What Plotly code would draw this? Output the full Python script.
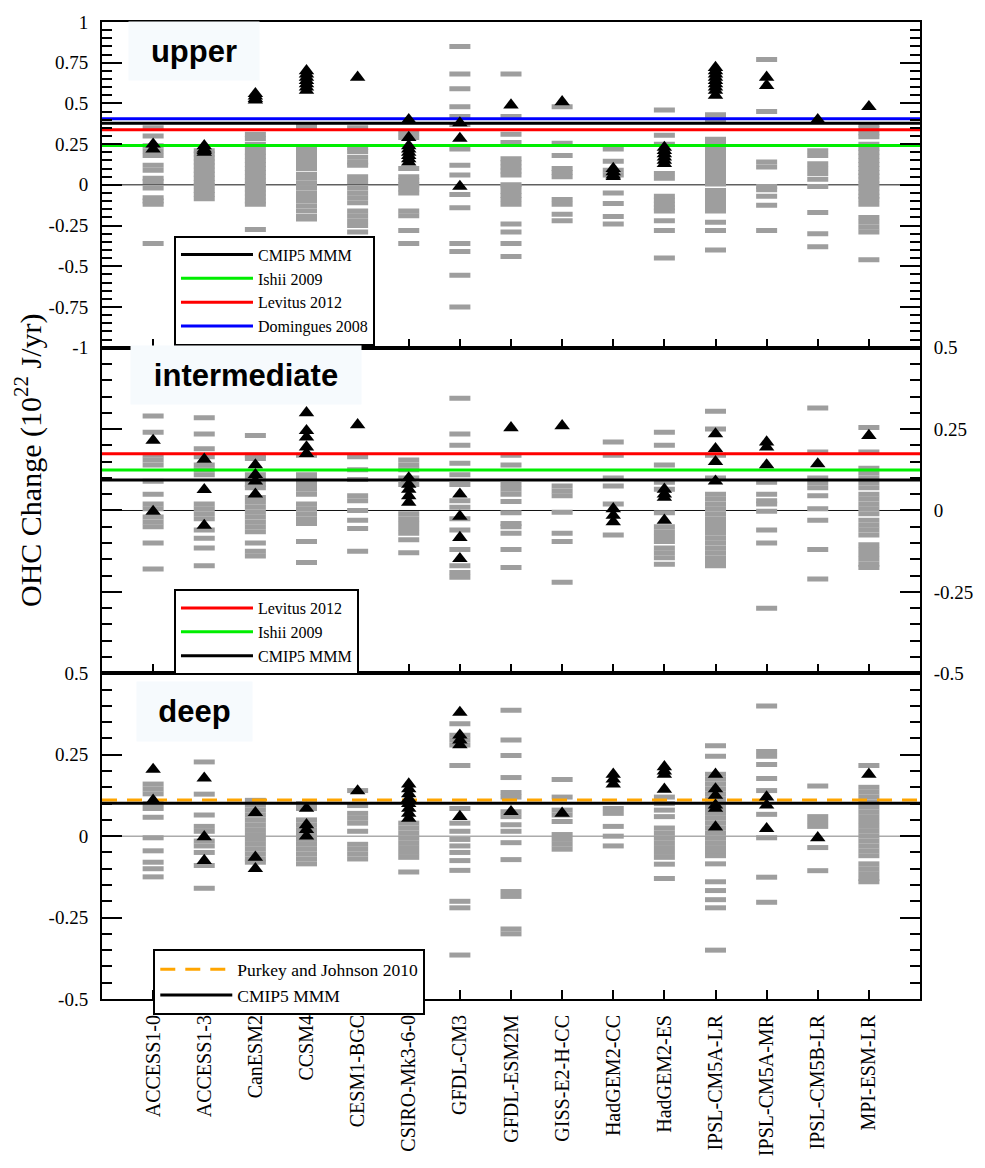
import plotly.graph_objects as go

models = ["ACCESS1-0", "ACCESS1-3", "CanESM2", "CCSM4", "CESM1-BGC", "CSIRO-Mk3-6-0",
          "GFDL-CM3", "GFDL-ESM2M", "GISS-E2-H-CC", "HadGEM2-CC", "HadGEM2-ES",
          "IPSL-CM5A-LR", "IPSL-CM5A-MR", "IPSL-CM5B-LR", "MPI-ESM-LR"]

# ---------------- upper layer: model runs (grey dashes) and observations-era members (triangles)
upper_runs = [
    [0.35, 0.30, 0.24, 0.21, 0.18, 0.12, 0.09, 0.04, 0.02, -0.02, -0.08, -0.10, -0.12, -0.36],
    [0.21, 0.19, 0.165, 0.14, 0.115, 0.09, 0.065, 0.04, 0.015, -0.005, -0.035, -0.06, -0.085],
    [0.31, 0.285, 0.25, 0.23, 0.20, 0.175, 0.15, 0.125, 0.10, 0.075, 0.05, 0.025, 0.0, -0.025,
     -0.05, -0.075, -0.10, -0.12, -0.275],
    [0.37, 0.35, 0.235, 0.21, 0.18, 0.155, 0.13, 0.10, 0.065, 0.04, 0.01, -0.02, -0.05, -0.075,
     -0.10, -0.13, -0.16, -0.195, -0.21],
    [0.35, 0.23, 0.205, 0.17, 0.14, 0.12, 0.05, 0.02, -0.02, -0.05, -0.08, -0.11, -0.16, -0.19,
     -0.22, -0.25, -0.29],
    [0.32, 0.29, 0.10, 0.05, 0.025, 0.0, -0.025, -0.05, -0.16, -0.19, -0.28, -0.36],
    [0.85, 0.68, 0.59, 0.48, 0.42, 0.37, 0.22, 0.12, 0.06, -0.06, -0.14, -0.36, -0.41, -0.555, -0.75],
    [0.68, 0.42, 0.31, 0.26, 0.16, 0.135, 0.11, 0.085, 0.06, 0.0, -0.01, -0.04, -0.065, -0.09,
     -0.12, -0.24, -0.29, -0.36, -0.44],
    [0.48, 0.255, 0.18, 0.10, 0.075, 0.05, -0.09, -0.12, -0.18, -0.22],
    [0.22, 0.145, 0.09, 0.06, -0.05, -0.115, -0.195, -0.24],
    [0.46, 0.305, 0.25, 0.07, 0.04, -0.07, -0.095, -0.12, -0.14, -0.16, -0.22, -0.28, -0.45],
    [0.43, 0.40, 0.28, 0.255, 0.23, 0.205, 0.18, 0.155, 0.13, 0.105, 0.08, 0.055, 0.03, 0.005,
     -0.035, -0.06, -0.085, -0.11, -0.135, -0.16, -0.23, -0.28, -0.40],
    [0.77, 0.45, 0.14, 0.11, -0.01, -0.03, -0.07, -0.125, -0.28],
    [0.21, 0.18, 0.13, 0.10, 0.07, 0.035, -0.01, -0.17, -0.30, -0.38],
    [0.37, 0.345, 0.32, 0.295, 0.25, 0.225, 0.20, 0.175, 0.15, 0.125, 0.10, 0.075, 0.055, 0.03,
     0.005, -0.02, -0.045, -0.07, -0.09, -0.12, -0.20, -0.23, -0.26, -0.29, -0.46],
]
upper_obs = [
    [0.25, 0.22],
    [0.24, 0.22, 0.21, 0.20],
    [0.56, 0.545, 0.53, 0.52],
    [0.70, 0.68, 0.66, 0.64, 0.62, 0.60, 0.58],
    [0.66],
    [0.40, 0.29, 0.24, 0.22, 0.20, 0.18, 0.16, 0.14],
    [0.38, 0.285, -0.01],
    [0.49],
    [0.51],
    [0.10, 0.08, 0.06, 0.05],
    [0.23, 0.21, 0.19, 0.17, 0.15, 0.13],
    [0.72, 0.70, 0.68, 0.66, 0.64, 0.62, 0.60, 0.58, 0.55],
    [0.66, 0.61],
    [0.40],
    [0.48],
]

# ---------------- intermediate layer
inter_runs = [
    [0.29, 0.24, 0.17, 0.155, 0.14, 0.09, 0.05, 0.02, 0.005, -0.02, -0.035, -0.05, -0.10, -0.18],
    [0.285, 0.235, 0.19, 0.165, 0.14, 0.125, 0.11, 0.02, 0.005, -0.01, -0.025, -0.06, -0.085,
     -0.115, -0.17],
    [0.23, 0.17, 0.16, 0.11, 0.095, 0.08, 0.07, 0.04, 0.025, 0.01, -0.005, -0.02, -0.035, -0.05,
     -0.065, -0.10, -0.125, -0.14],
    [0.17, 0.11, 0.095, 0.08, 0.065, 0.05, 0.02, 0.005, -0.01, -0.025, -0.04, -0.095, -0.16],
    [0.165, 0.125, 0.095, 0.045, 0.03, 0.0, -0.03, -0.055, -0.125],
    [0.155, 0.14, 0.125, 0.10, 0.08, -0.01, -0.025, -0.04, -0.055, -0.07, -0.09, -0.13],
    [0.345, 0.235, 0.20, 0.145, 0.11, 0.08, 0.03, 0.01, -0.025, -0.06, -0.12, -0.17, -0.19, -0.205],
    [0.17, 0.14, 0.08, 0.065, 0.05, 0.028, -0.007, -0.04, -0.05, -0.07, -0.12, -0.175],
    [0.075, 0.06, 0.045, -0.005, -0.07, -0.095, -0.22],
    [0.21, 0.17, 0.10, 0.075, 0.02, -0.075],
    [0.24, 0.20, 0.14, 0.087, 0.065, -0.007, -0.05, -0.065, -0.08, -0.095, -0.115, -0.13,
     -0.145, -0.165],
    [0.305, 0.25, 0.17, 0.10, 0.05, 0.035, 0.02, 0.005, -0.01, -0.025, -0.04, -0.055, -0.07,
     -0.085, -0.10, -0.115, -0.13, -0.145, -0.16, -0.17],
    [0.087, 0.05, 0.03, 0.02, -0.002, -0.06, -0.10, -0.30],
    [0.315, 0.18, 0.10, 0.085, 0.07, 0.045, 0.005, -0.03, -0.12, -0.21],
    [0.255, 0.18, 0.13, 0.115, 0.10, 0.085, 0.07, 0.05, 0.035, 0.02, 0.005, -0.01, -0.03,
     -0.045, -0.06, -0.075, -0.105, -0.12, -0.135, -0.15, -0.165, -0.175],
]
inter_obs = [
    [0.215, -0.003],
    [0.157, 0.064, -0.046],
    [0.14, 0.11, 0.09, 0.05],
    [0.30, 0.245, 0.225, 0.195, 0.175],
    [0.263],
    [0.10, 0.08, 0.065, 0.045, 0.025],
    [0.05, -0.018, -0.083, -0.148],
    [0.254],
    [0.26],
    [0.005, -0.015, -0.035],
    [0.065, 0.05, 0.04, -0.03],
    [0.235, 0.19, 0.15, 0.09],
    [0.21, 0.195, 0.14],
    [0.143],
    [0.23],
]

# ---------------- deep layer
deep_runs = [
    [0.16, 0.145, 0.13, 0.10, 0.085, 0.058, -0.005, -0.045, -0.08, -0.10, -0.125],
    [0.228, 0.129, 0.065, 0.03, 0.015, -0.015, -0.03, -0.05, -0.09, -0.16],
    [0.11, 0.095, 0.08, 0.065, 0.05, 0.035, 0.02, 0.005, -0.01, -0.025, -0.04, -0.055, -0.07, -0.08],
    [0.10, 0.085, 0.05, 0.035, 0.02, 0.005, -0.01, -0.025, -0.04, -0.055, -0.07, -0.085],
    [0.14, 0.094, 0.07, 0.055, 0.04, 0.015, -0.025, -0.04, -0.055, -0.07],
    [0.04, 0.025, 0.01, -0.005, -0.02, -0.035, -0.05, -0.065, -0.11],
    [0.345, 0.31, 0.295, 0.28, 0.217, 0.085, 0.04, 0.015, -0.01, -0.03, -0.05, -0.075, -0.105,
     -0.20, -0.22, -0.365],
    [0.387, 0.295, 0.248, 0.18, 0.134, 0.12, 0.075, 0.06, 0.035, 0.015, -0.02, -0.072, -0.17,
     -0.185, -0.285, -0.30],
    [0.174, 0.12, 0.08, 0.065, 0.045, 0.005, -0.01, -0.025, -0.04],
    [0.085, 0.07, 0.03, 0.0, -0.03],
    [0.12, 0.10, 0.08, 0.06, 0.025, 0.01, -0.005, -0.02, -0.035, -0.05, -0.065, -0.086, -0.13],
    [0.278, 0.245, 0.19, 0.175, 0.16, 0.145, 0.13, 0.115, 0.10, 0.085, 0.07, 0.055, 0.04, 0.025,
     0.01, -0.005, -0.02, -0.035, -0.05, -0.06, -0.085, -0.14, -0.167, -0.195, -0.22, -0.35],
    [0.40, 0.26, 0.245, 0.22, 0.177, 0.14, 0.067, -0.005, -0.126, -0.203],
    [0.154, 0.06, 0.045, 0.03, -0.035, -0.106],
    [0.217, 0.15, 0.135, 0.12, 0.105, 0.09, 0.075, 0.06, 0.045, 0.03, 0.015, 0.0, -0.015, -0.03,
     -0.045, -0.06, -0.085, -0.10, -0.115, -0.13, -0.14],
]
deep_obs = [
    [0.205, 0.11],
    [0.178, -0.002, -0.075],
    [0.072, -0.065, -0.10],
    [0.085, 0.035, 0.02, 0.0],
    [0.139],
    [0.16, 0.145, 0.13, 0.115, 0.10, 0.085, 0.07, 0.055],
    [0.38, 0.31, 0.295, 0.28, 0.06],
    [0.075],
    [0.07],
    [0.19, 0.175, 0.16],
    [0.213, 0.20, 0.19, 0.144],
    [0.19, 0.145, 0.125, 0.095, 0.085, 0.028],
    [0.12, 0.095, 0.023],
    [-0.005],
    [0.19],
]

# reference estimates (10^22 J/yr)
upper_ref_names = ["CMIP5 MMM", "Ishii 2009", "Levitus 2012", "Domingues 2008"]
upper_ref_values = [0.378, 0.241, 0.338, 0.406]
inter_ref_names = ["Levitus 2012", "Ishii 2009", "CMIP5 MMM"]
inter_ref_values = [0.174, 0.124, 0.094]
deep_ref_names = ["Purkey and Johnson 2010", "CMIP5 MMM"]
deep_ref_values = [0.111, 0.101]

upper_ticks = [1, 0.75, 0.5, 0.25, 0, -0.25, -0.5, -0.75, -1]
upper_ticktext = ["1", "0.75", "0.5", "0.25", "0", "-0.25", "-0.5", "-0.75", "-1"]
half_ticks = [0.5, 0.25, 0, -0.25, -0.5]
half_ticktext = ["0.5", "0.25", "0", "-0.25", "-0.5"]

# ---------------- styles
ref_style = {
    "CMIP5 MMM": dict(color="black", width=3),
    "Ishii 2009": dict(color="#00ee00", width=3),
    "Levitus 2012": dict(color="#ff0000", width=3),
    "Domingues 2008": dict(color="#0000ff", width=3),
    "Purkey and Johnson 2010": dict(color="#ffa500", width=3, dash="15px,10px"),
}
GREY = "#9e9e9e"
SERIF = "Liberation Serif"
positions = list(range(1, len(models) + 1))
xspan = [0, len(models) + 1]

fig = go.Figure()

panels = [
    ("x", "y", upper_runs, upper_obs, upper_ref_names, upper_ref_values, "#111111", "legend"),
    ("x2", "y2", inter_runs, inter_obs, inter_ref_names, inter_ref_values, "#111111", "legend2"),
    ("x3", "y3", deep_runs, deep_obs, deep_ref_names, deep_ref_values, "#808080", "legend3"),
]

for xa, ya, runs, obs, rnames, rvals, zcol, leg in panels:
    # zero line
    fig.add_trace(go.Scatter(x=xspan, y=[0, 0], mode="lines", xaxis=xa, yaxis=ya,
                             line=dict(color=zcol, width=1), showlegend=False, hoverinfo="skip"))
    rx, ry = [], []
    for p, vals in zip(positions, runs):
        rx += [p] * len(vals)
        ry += vals
    fig.add_trace(go.Scatter(x=rx, y=ry, mode="markers", xaxis=xa, yaxis=ya, showlegend=False,
                             marker=dict(symbol="line-ew", size=15,
                                         line=dict(color=GREY, width=5))))
    for name, val in zip(rnames, rvals):
        fig.add_trace(go.Scatter(x=xspan, y=[val, val], mode="lines", xaxis=xa, yaxis=ya,
                                 name=name, legend=leg, line=ref_style[name]))
    ox, oy = [], []
    for p, vals in zip(positions, obs):
        ox += [p] * len(vals)
        oy += vals
    fig.add_trace(go.Scatter(x=ox, y=oy, mode="markers", xaxis=xa, yaxis=ya, showlegend=False,
                             marker=dict(symbol="triangle-up", size=13.5, color="black")))

tickfont = dict(family=SERIF, size=19, color="black")
xbase = dict(range=xspan, tickvals=positions, ticktext=models, ticks="inside", ticklen=9,
             tickwidth=1.5, tickcolor="black", showline=True, linewidth=2, linecolor="black",
             mirror=True, showgrid=False, zeroline=False, fixedrange=True)
minor = dict(dtick=0.05, tick0=0, ticks="inside", ticklen=10, tickwidth=1.5, tickcolor="black")
ybase = dict(ticks="inside", ticklen=20, tickwidth=2, tickcolor="black", showline=True,
             linewidth=2, linecolor="black", mirror="ticks", showgrid=False, zeroline=False,
             minor=minor, tickfont=tickfont, ticklabelstandoff=8)

legbase = dict(xanchor="left", yanchor="top", bgcolor="white", bordercolor="black",
               borderwidth=2, itemwidth=72, xref="paper", yref="paper")

fig.update_layout(
    width=985, height=1168, autosize=False,
    margin=dict(l=102, r=53, t=13, b=149),
    paper_bgcolor="white", plot_bgcolor="white",
    xaxis=dict(xbase, anchor="y", showticklabels=False),
    xaxis2=dict(xbase, anchor="y2", showticklabels=False),
    xaxis3=dict(xbase, anchor="y3", showticklabels=True, tickangle=-90,
                tickfont=dict(family=SERIF, size=20, color="black"), ticklabelstandoff=6),
    yaxis=dict(ybase, domain=[2 / 3, 1], range=[-1, 1], tickvals=upper_ticks,
               ticktext=upper_ticktext, anchor="x", side="left"),
    yaxis2=dict(ybase, domain=[1 / 3, 2 / 3], range=[-0.5, 0.5], tickvals=half_ticks,
                ticktext=half_ticktext, anchor="x2", side="right"),
    yaxis3=dict(ybase, domain=[0, 1 / 3], range=[-0.5, 0.5], tickvals=half_ticks,
                ticktext=half_ticktext, anchor="x3", side="left"),
    legend=dict(legbase, x=0.0880, y=0.7813, font=dict(family=SERIF, size=16, color="black")),
    legend2=dict(legbase, x=0.0880, y=0.4195, font=dict(family=SERIF, size=16, color="black")),
    legend3=dict(legbase, x=0.0627, y=0.0507, font=dict(family=SERIF, size=17.5, color="black")),
    showlegend=True,
)

label_font = dict(family="Liberation Sans", size=31, color="black", weight="bold")
for text, xc, yc, w, h in [("upper", 0.1120, 0.9702, 130, 58),
                           ("intermediate", 0.1759, 0.6382, 230, 58),
                           ("deep", 0.1127, 0.2947, 115, 59)]:
    fig.add_annotation(text=text, x=xc, y=yc, xref="paper", yref="paper", xanchor="center",
                       yanchor="middle", showarrow=False, width=w, height=h, borderpad=0,
                       bgcolor="#f6fafd", font=label_font)

fig.add_annotation(text="OHC Change (10<sup>22</sup> J/yr)", x=-0.0892, y=0.5507, xref="paper",
                   yref="paper", xanchor="center", yanchor="middle", textangle=-90,
                   showarrow=False, font=dict(family=SERIF, size=30, color="black"))

fig.write_html("out.html")
